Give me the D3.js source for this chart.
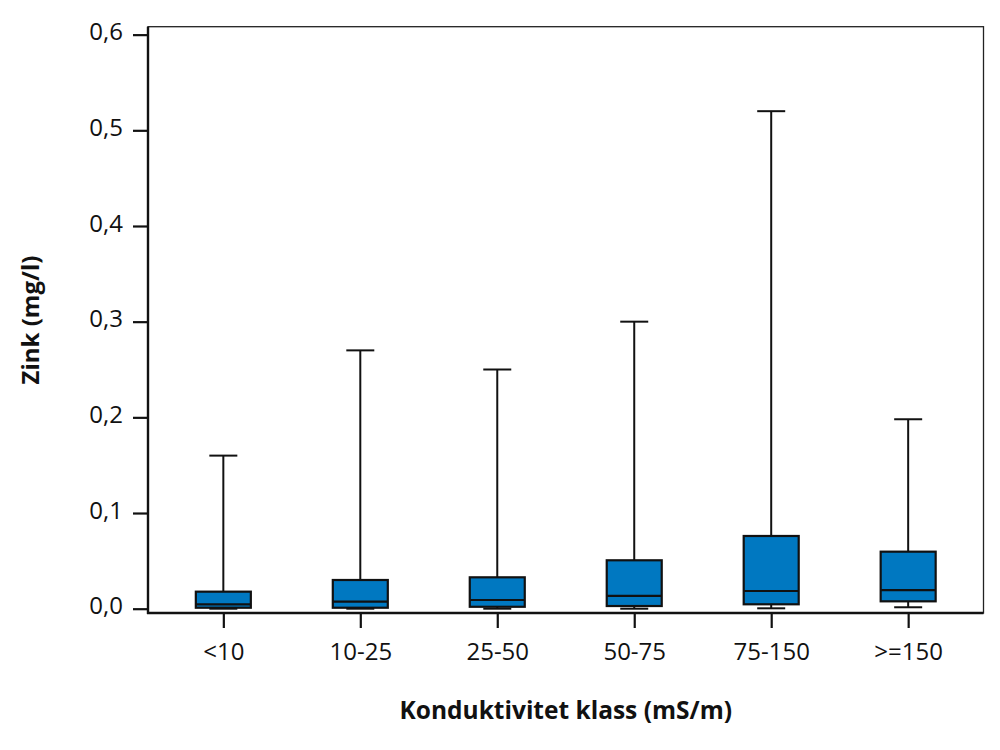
<!DOCTYPE html>
<html>
<head>
<meta charset="utf-8">
<script src="https://cdn.jsdelivr.net/npm/d3@7"></script>
<style>
  body { margin: 0; background: #fff; }
  svg { display: block; }
</style>
</head>
<body>
<svg id="chart" width="1000" height="750"></svg>
<script>
// Konduktivitet classes and box statistics (mg/l)
const categories = ["<10", "10-25", "25-50", "50-75", "75-150", ">=150"];
const minValues = [0.0, 0.0, 0.0, 0.0, 0.0004, 0.0015];
const q1Values = [0.001, 0.001, 0.002, 0.0028, 0.0046, 0.0077];
const medianValues = [0.0046, 0.0073, 0.0091, 0.0133, 0.0185, 0.0195];
const q3Values = [0.0178, 0.030, 0.0328, 0.0506, 0.076, 0.0596];
const maxValues = [0.16, 0.27, 0.25, 0.30, 0.52, 0.198];
const yTicks = [0, 0.1, 0.2, 0.3, 0.4, 0.5, 0.6];

const boxes = categories.map((c, i) => ({
  cat: c,
  min: minValues[i],
  q1: q1Values[i],
  median: medianValues[i],
  q3: q3Values[i],
  max: maxValues[i],
}));

const svg = d3.select("#chart");
const plotLeft = 148, plotRight = 983.5, plotTop = 26.7, plotBottom = 613;
const boxColor = "#0078c1";
const font = "'Open Sans', 'DejaVu Sans', sans-serif";

const x = d3.scalePoint().domain(categories).range([plotLeft, plotRight]).padding(0.55);
const y = d3.scaleLinear().domain([-0.0045, 0.6083]).range([plotBottom, plotTop]);

const boxWidth = 55;
const capWidth = 28;

// frame (top + right thin)
svg.append("rect")
  .attr("x", plotLeft).attr("y", plotTop)
  .attr("width", plotRight - plotLeft).attr("height", plotBottom - plotTop)
  .attr("fill", "none").attr("stroke", "#222").attr("stroke-width", 1.3);

// axes
const yAxis = svg.append("g")
  .attr("transform", `translate(${plotLeft},0)`)
  .call(d3.axisLeft(y).tickValues(yTicks).tickSize(15).tickPadding(10)
    .tickFormat((d) => d3.format(".1f")(d).replace(".", ",")));
const xAxis = svg.append("g")
  .attr("transform", `translate(0,${plotBottom})`)
  .call(d3.axisBottom(x).tickSize(15).tickPadding(15));

[yAxis, xAxis].forEach((g) => {
  g.select(".domain").remove();
  g.selectAll(".tick line").attr("stroke", "#111").attr("stroke-width", 2.2);
  g.selectAll(".tick text")
    .attr("fill", "#111")
    .style("font-family", font)
    .style("font-size", "24px");
});
yAxis.selectAll(".tick text").attr("dy", "0.22em");

svg.append("line")
  .attr("x1", plotLeft).attr("x2", plotLeft).attr("y1", plotTop).attr("y2", plotBottom + 1)
  .attr("stroke", "#111").attr("stroke-width", 2.4);
svg.append("line")
  .attr("x1", plotLeft - 1).attr("x2", plotRight).attr("y1", plotBottom).attr("y2", plotBottom)
  .attr("stroke", "#111").attr("stroke-width", 2.4);

// boxes
const g = svg.append("g")
  .selectAll("g")
  .data(boxes)
  .join("g")
  .attr("transform", (d) => `translate(${x(d.cat)},0)`);

g.append("line")
  .attr("y1", (d) => y(d.max)).attr("y2", (d) => y(d.q3))
  .attr("stroke", "#111").attr("stroke-width", 2);
g.append("line")
  .attr("y1", (d) => y(d.q1)).attr("y2", (d) => y(d.min))
  .attr("stroke", "#111").attr("stroke-width", 2);
g.append("line")
  .attr("x1", -capWidth / 2).attr("x2", capWidth / 2)
  .attr("y1", (d) => y(d.max)).attr("y2", (d) => y(d.max))
  .attr("stroke", "#111").attr("stroke-width", 2);
g.append("line")
  .attr("x1", -capWidth / 2).attr("x2", capWidth / 2)
  .attr("y1", (d) => y(d.min)).attr("y2", (d) => y(d.min))
  .attr("stroke", "#111").attr("stroke-width", 2);
g.append("rect")
  .attr("x", -boxWidth / 2).attr("width", boxWidth)
  .attr("y", (d) => y(d.q3))
  .attr("height", (d) => y(d.q1) - y(d.q3))
  .attr("fill", boxColor).attr("stroke", "#111").attr("stroke-width", 2.2);
g.append("line")
  .attr("x1", -boxWidth / 2).attr("x2", boxWidth / 2)
  .attr("y1", (d) => y(d.median)).attr("y2", (d) => y(d.median))
  .attr("stroke", "#111").attr("stroke-width", 2.2);

// axis titles
svg.append("text")
  .attr("x", (plotLeft + plotRight) / 2).attr("y", 719)
  .attr("text-anchor", "middle")
  .style("font-family", font).style("font-size", "24.5px").style("font-weight", "bold")
  .attr("fill", "#111")
  .text("Konduktivitet klass (mS/m)");
svg.append("text")
  .attr("transform", "translate(39,320) rotate(-90)")
  .attr("text-anchor", "middle")
  .style("font-family", font).style("font-size", "24px").style("font-weight", "bold")
  .attr("fill", "#111")
  .text("Zink (mg/l)");
</script>
</body>
</html>
